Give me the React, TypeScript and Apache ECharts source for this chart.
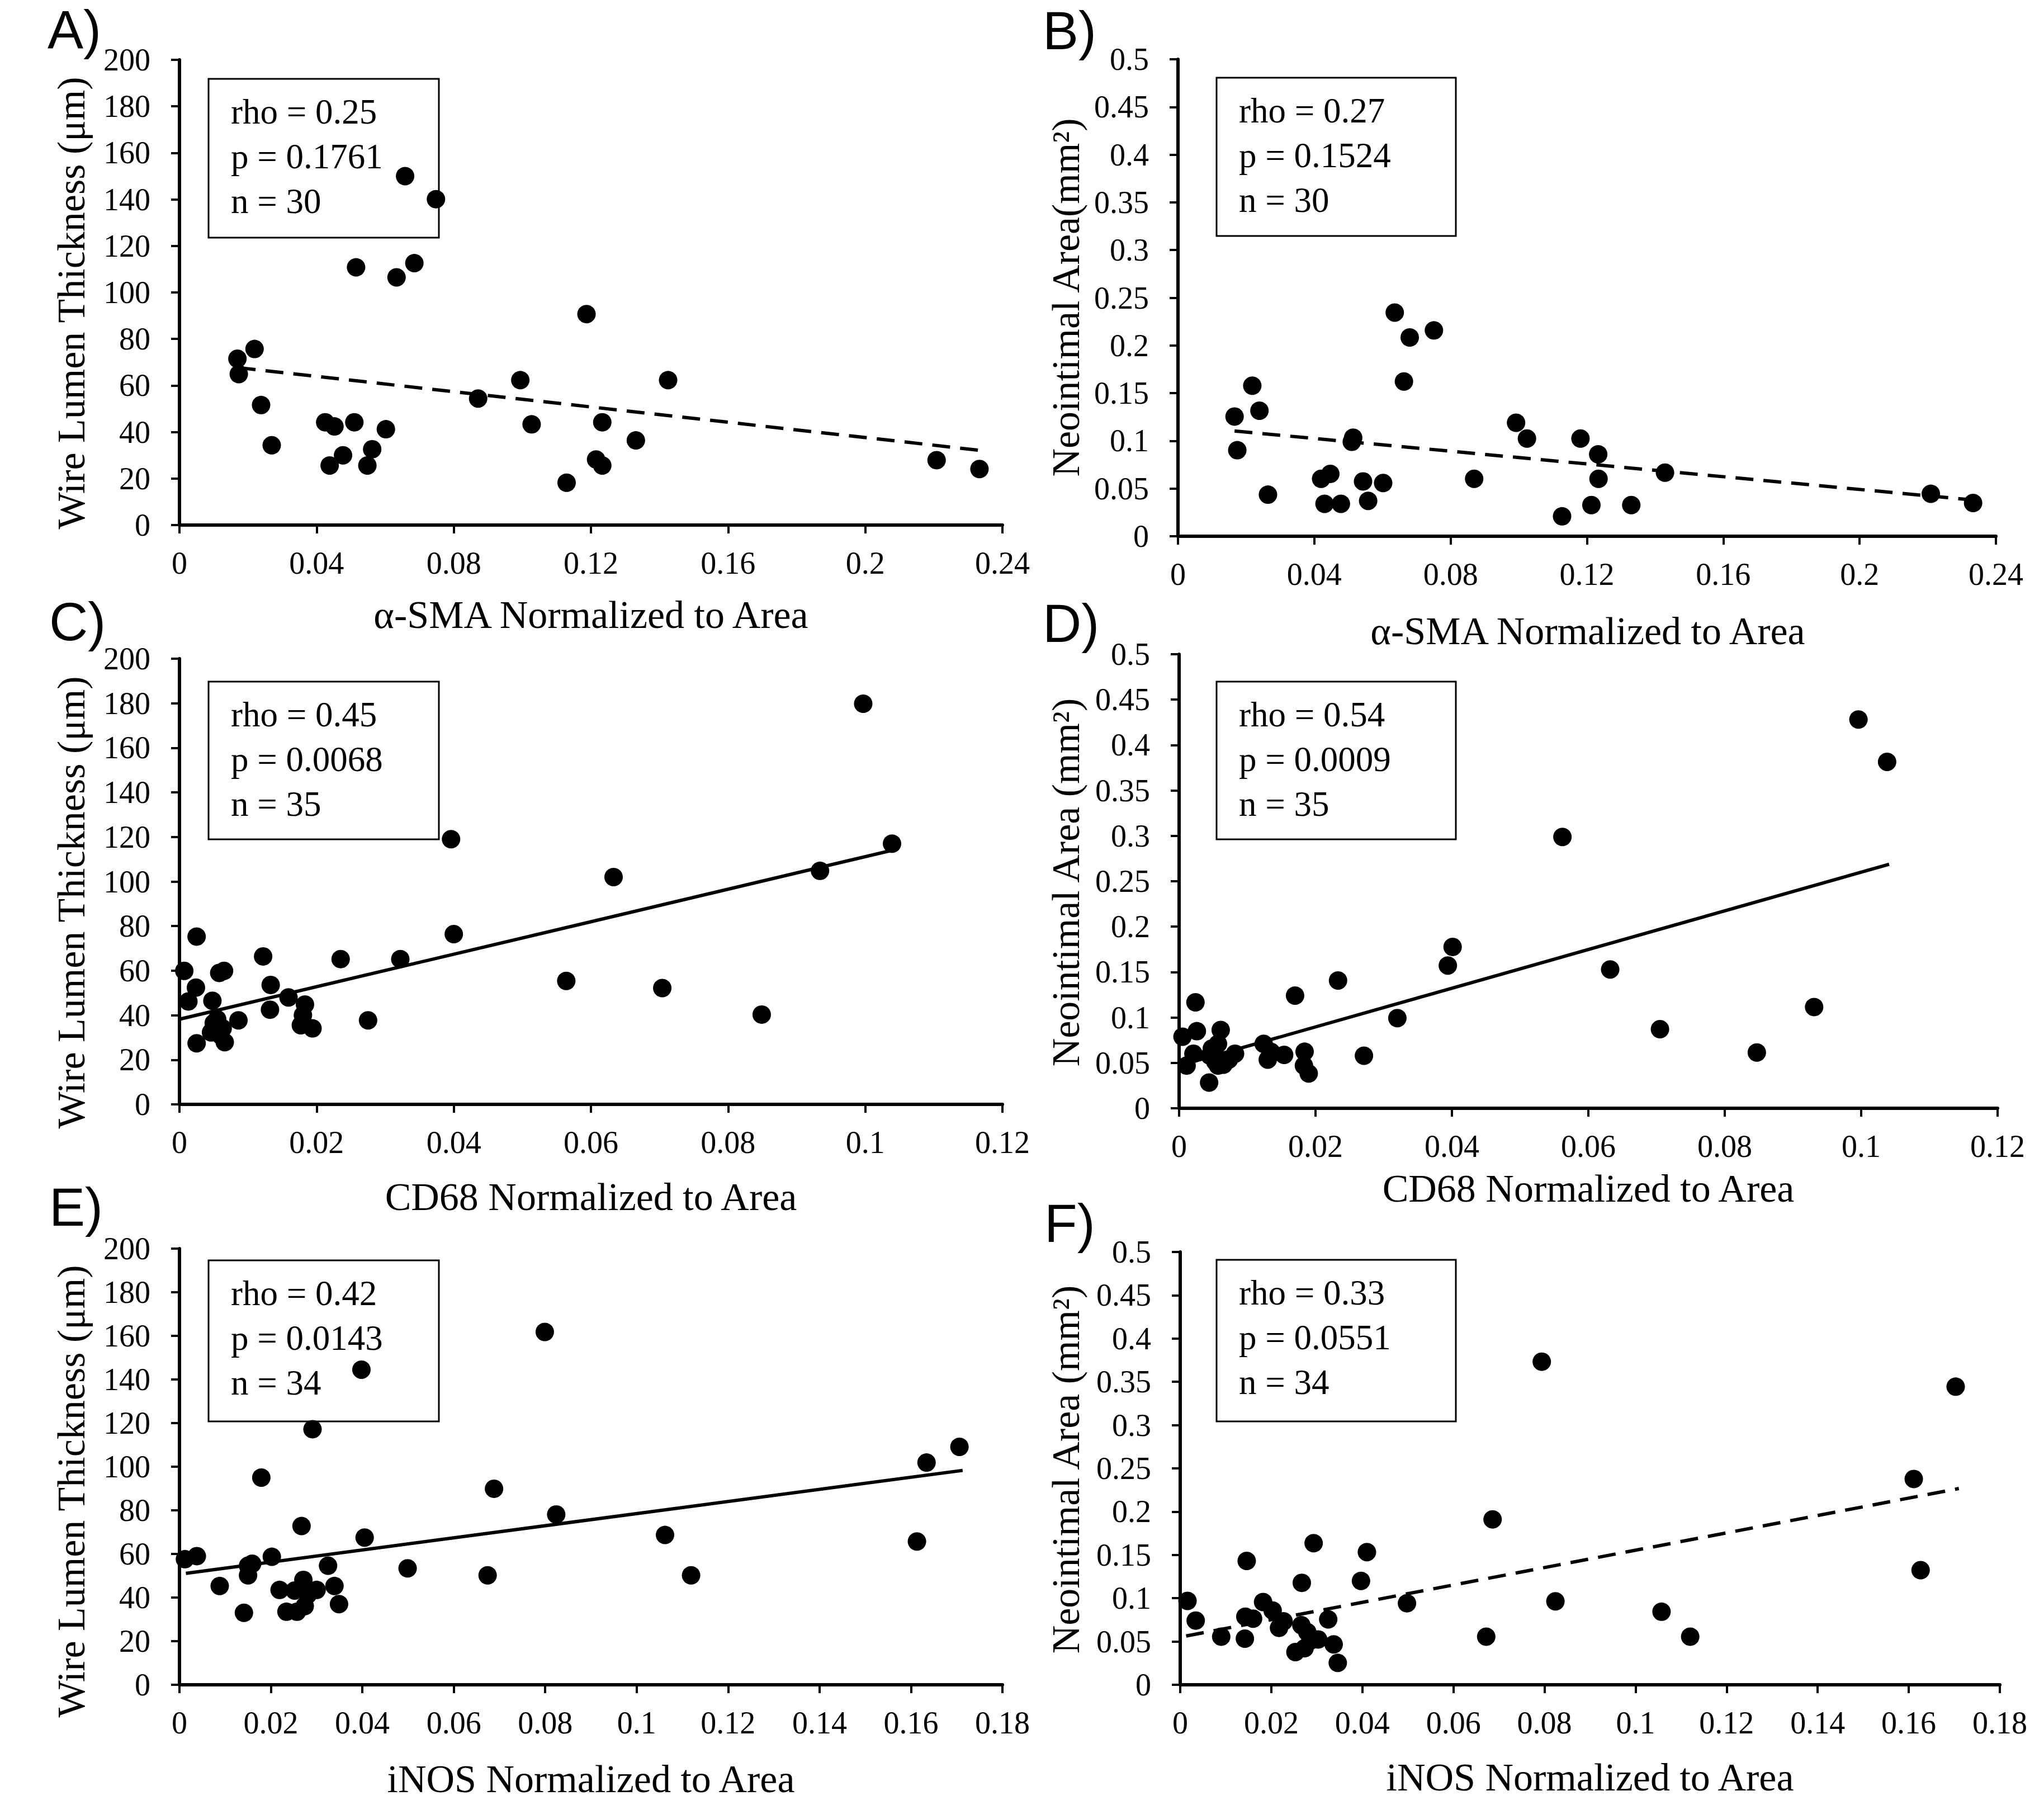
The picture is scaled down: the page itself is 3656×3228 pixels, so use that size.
import React, { useEffect, useRef } from "react";
import * as echarts from "echarts";

// ---------- DATA ----------
// A) alpha-SMA vs Wire Lumen Thickness
const smaThickness: number[][] = [
  [0.0169, 71.5], [0.0173, 64.9], [0.0219, 75.7], [0.0238, 51.6], [0.0269, 34.3],
  [0.0425, 44.2], [0.0452, 42.4], [0.0438, 25.6], [0.0477, 30.0], [0.051, 44.2],
  [0.0515, 110.8], [0.0562, 32.6], [0.0548, 25.6], [0.0602, 41.2], [0.0633, 106.5],
  [0.0658, 150.0], [0.0685, 112.6], [0.0748, 140.1], [0.0871, 54.4], [0.0994, 62.3],
  [0.1027, 43.3], [0.1129, 18.2], [0.1187, 90.7], [0.1215, 28.2], [0.1233, 25.6],
  [0.1233, 44.2], [0.1331, 36.4], [0.1425, 62.3], [0.2208, 27.9], [0.2333, 24.1],
];
const smaThicknessTrend: number[][] = [[0.017, 67.7], [0.2342, 32.0]];

// B) alpha-SMA vs Neointimal Area
const smaArea: number[][] = [
  [0.0166, 0.1255], [0.0174, 0.0902], [0.0218, 0.1578], [0.0239, 0.1316], [0.0264, 0.0436],
  [0.042, 0.0602], [0.0447, 0.0654], [0.043, 0.034], [0.0478, 0.034], [0.0514, 0.1033],
  [0.051, 0.099], [0.0543, 0.0575], [0.0558, 0.0371], [0.0602, 0.0558], [0.0636, 0.2345],
  [0.0663, 0.1622], [0.068, 0.2084], [0.0751, 0.2158], [0.0869, 0.0602], [0.0992, 0.119],
  [0.1024, 0.1024], [0.1127, 0.0209], [0.1181, 0.1024], [0.1213, 0.0327], [0.1233, 0.0859],
  [0.1234, 0.0602], [0.133, 0.0327], [0.1429, 0.0667], [0.2209, 0.0445], [0.2333, 0.0349],
];
const smaAreaTrend: number[][] = [[0.0166, 0.1103], [0.2335, 0.0379]];

// C) CD68 vs Wire Lumen Thickness
const cd68Thickness: number[][] = [
  [0.0007, 59.9], [0.0013, 46.2], [0.0024, 52.4], [0.0025, 75.3], [0.0025, 27.4],
  [0.0048, 46.5], [0.0055, 38.2], [0.0046, 32.3], [0.0058, 59.0], [0.0065, 59.9],
  [0.0063, 34.1], [0.0066, 27.9], [0.0086, 37.7], [0.0122, 66.4], [0.0133, 53.6],
  [0.0132, 42.5], [0.0159, 48.0], [0.0183, 44.8], [0.0177, 35.5], [0.0194, 34.1],
  [0.0235, 65.2], [0.0275, 37.7], [0.0322, 65.2], [0.0396, 119.0], [0.04, 76.4],
  [0.0564, 55.4], [0.0633, 102.0], [0.0704, 52.2], [0.0849, 40.3], [0.0934, 104.8],
  [0.0997, 179.8], [0.1039, 117.0], [0.005, 36.5], [0.018, 40.0], [0.006, 31.0],
];
const cd68ThicknessTrend: number[][] = [[0, 38.2], [0.1039, 114.0]];

// D) CD68 vs Neointimal Area
const cd68Area: number[][] = [
  [0.0005, 0.0788], [0.0011, 0.047], [0.0021, 0.0601], [0.0024, 0.1167], [0.0026, 0.0849],
  [0.0044, 0.0283], [0.0048, 0.0658], [0.0053, 0.0514], [0.0057, 0.071], [0.0061, 0.0862],
  [0.0057, 0.047], [0.0073, 0.0536], [0.0082, 0.0601], [0.0124, 0.071], [0.013, 0.0536],
  [0.0154, 0.0588], [0.017, 0.1241], [0.0184, 0.0623], [0.0183, 0.047], [0.019, 0.0383],
  [0.0233, 0.1407], [0.0271, 0.0579], [0.032, 0.0993], [0.0394, 0.1572], [0.0401, 0.1777],
  [0.0562, 0.2988], [0.0632, 0.1529], [0.0705, 0.0871], [0.0847, 0.0614], [0.0931, 0.1115],
  [0.0996, 0.4281], [0.1038, 0.3815], [0.0065, 0.048], [0.0135, 0.062], [0.0045, 0.058],
];
const cd68AreaTrend: number[][] = [[0, 0.047], [0.1041, 0.2687]];

// E) iNOS vs Wire Lumen Thickness
const inosThickness: number[][] = [
  [0.0012, 57.6], [0.0038, 59.0], [0.0088, 45.3], [0.0141, 33.0], [0.015, 54.6],
  [0.015, 50.2], [0.0159, 55.5], [0.0179, 95.0], [0.0202, 58.7], [0.0219, 43.5],
  [0.0234, 33.5], [0.0252, 43.2], [0.0257, 33.5], [0.0267, 72.8], [0.0271, 48.1],
  [0.0274, 36.1], [0.0281, 41.4], [0.0291, 117.2], [0.03, 43.5], [0.0325, 54.6],
  [0.0339, 45.3], [0.0349, 37.0], [0.0398, 144.5], [0.0405, 67.5], [0.0499, 53.4],
  [0.0674, 50.2], [0.0688, 89.9], [0.0799, 161.8], [0.0824, 78.1], [0.1062, 68.7],
  [0.1119, 50.2], [0.1613, 65.7], [0.1634, 101.9], [0.1706, 109.1],
];
const inosThicknessTrend: number[][] = [[0.0014, 51.1], [0.1713, 98.3]];

// F) iNOS vs Neointimal Area
const inosArea: number[][] = [
  [0.0016, 0.0969], [0.0034, 0.0742], [0.009, 0.0556], [0.0142, 0.0533], [0.0143, 0.0787],
  [0.0146, 0.1431], [0.016, 0.0764], [0.0182, 0.0956], [0.0203, 0.0858], [0.0217, 0.0658],
  [0.0227, 0.0733], [0.0253, 0.0378], [0.0266, 0.0689], [0.0267, 0.1178], [0.0273, 0.0422],
  [0.0279, 0.0609], [0.0286, 0.0511], [0.0293, 0.1636], [0.0303, 0.0524], [0.0325, 0.0756],
  [0.0337, 0.0467], [0.0346, 0.0253], [0.0397, 0.12], [0.041, 0.1533], [0.0498, 0.0942],
  [0.0672, 0.0556], [0.0686, 0.1911], [0.0794, 0.3733], [0.0824, 0.0964], [0.1057, 0.0844],
  [0.112, 0.0556], [0.1611, 0.2378], [0.1626, 0.1324], [0.1703, 0.3444],
];
const inosAreaTrend: number[][] = [[0.0013, 0.0564], [0.171, 0.2267]];

// Axis ranges / labels
const xMaxes = [0.24, 0.24, 0.12, 0.12, 0.18, 0.18];
const xSteps = [0.04, 0.04, 0.02, 0.02, 0.02, 0.02];
const yMaxes = [200, 0.5, 200, 0.5, 200, 0.5];
const ySteps = [20, 0.05, 20, 0.05, 20, 0.05];
const panelLetters = ["A)", "B)", "C)", "D)", "E)", "F)"];
const xTitles = [
  "α-SMA Normalized to Area", "α-SMA Normalized to Area",
  "CD68 Normalized to Area", "CD68 Normalized to Area",
  "iNOS Normalized to Area", "iNOS Normalized to Area",
];
const yTitles = [
  "Wire Lumen Thickness (μm)", "Neointimal Area(mm²)",
  "Wire Lumen Thickness (μm)", "Neointimal Area (mm²)",
  "Wire Lumen Thickness (μm)", "Neointimal Area (mm²)",
];
const statLines = [
  ["rho = 0.25", "p = 0.1761", "n = 30"],
  ["rho = 0.27", "p = 0.1524", "n = 30"],
  ["rho = 0.45", "p = 0.0068", "n = 35"],
  ["rho = 0.54", "p = 0.0009", "n = 35"],
  ["rho = 0.42", "p = 0.0143", "n = 34"],
  ["rho = 0.33", "p = 0.0551", "n = 34"],
];
const scatterData = [smaThickness, smaArea, cd68Thickness, cd68Area, inosThickness, inosArea];
const trendData = [smaThicknessTrend, smaAreaTrend, cd68ThicknessTrend, cd68AreaTrend, inosThicknessTrend, inosAreaTrend];
const trendDashed = [true, true, false, false, false, true];

// ---------- LAYOUT ----------
const W = 3656;
const H = 3228;
const grids = [
  { left: 321, top: 107, width: 1472, height: 832 },
  { left: 2107, top: 106, width: 1463, height: 853 },
  { left: 321, top: 1178, width: 1472, height: 797 },
  { left: 2109, top: 1170, width: 1464, height: 812 },
  { left: 321, top: 2233, width: 1472, height: 780 },
  { left: 2111, top: 2239, width: 1466, height: 774 },
];
const xTitlePos = [[1057, 1099], [2840, 1128], [1057, 2140], [2841, 2125], [1057, 3181], [2844, 3178]];
const yTitlePos = [[127, 542], [1906, 532], [127, 1614], [1906, 1578], [127, 2667], [1906, 2628]];
const letterPos = [[85, 52], [1865, 54], [88, 1111], [1865, 1114], [88, 2158], [1868, 2187]];
const boxes = [
  [373, 141, 412, 284], [2176, 139, 428, 283],
  [373, 1219, 412, 282], [2176, 1219, 428, 282],
  [373, 2254, 412, 288], [2176, 2253, 428, 289],
];

const SERIF = '"Liberation Serif", "Times New Roman", serif';
const SANS = '"Liberation Sans", Arial, sans-serif';

const fmt = (v: number) => String(parseFloat(v.toFixed(4)));

function buildOption() {
  const xAxis: any[] = [];
  const yAxis: any[] = [];
  const series: any[] = [];
  const graphic: any[] = [];

  for (let i = 0; i < 6; i++) {
    const axisCommon = {
      axisLine: { show: true, onZero: false, lineStyle: { color: "#000", width: 6 } },
      axisTick: { show: true, length: 15, lineStyle: { color: "#000", width: 4 } },
      splitLine: { show: false },
    };
    const labelCommon = {
      color: "#000",
      fontFamily: SERIF,
      fontSize: 56,
      formatter: fmt,
    };
    xAxis.push({
      type: "value",
      gridIndex: i,
      min: 0,
      max: xMaxes[i],
      interval: xSteps[i],
      ...axisCommon,
      axisLabel: { ...labelCommon, margin: 40 },
    });
    yAxis.push({
      type: "value",
      gridIndex: i,
      min: 0,
      max: yMaxes[i],
      interval: ySteps[i],
      ...axisCommon,
      axisLabel: { ...labelCommon, margin: 52 },
    });
    series.push({
      type: "scatter",
      xAxisIndex: i,
      yAxisIndex: i,
      data: scatterData[i],
      symbol: "circle",
      symbolSize: 33,
      itemStyle: { color: "#000", opacity: 1 },
      z: 5,
    });
    series.push({
      type: "line",
      xAxisIndex: i,
      yAxisIndex: i,
      data: trendData[i],
      showSymbol: false,
      symbol: "none",
      lineStyle: {
        color: "#000",
        width: 6,
        opacity: 1,
        type: trendDashed[i] ? [32, 18] : "solid",
      },
      z: 4,
    });

    // stats box (drawn under the points)
    const [bx, by, bw, bh] = boxes[i];
    graphic.push({
      type: "rect",
      shape: { x: bx, y: by, width: bw, height: bh },
      style: { fill: "#fff", stroke: "#000", lineWidth: 3 },
      z: 1,
    });
    statLines[i].forEach((t, k) => {
      graphic.push({
        type: "text",
        x: bx + 40,
        y: by + 59 + k * 80,
        z: 2,
        style: {
          text: t,
          fill: "#000",
          fontFamily: SERIF,
          fontSize: 63,
          align: "left",
          verticalAlign: "middle",
        },
      });
    });
    // panel letter
    graphic.push({
      type: "text",
      x: letterPos[i][0],
      y: letterPos[i][1],
      z: 2,
      style: {
        text: panelLetters[i],
        fill: "#000",
        fontFamily: SANS,
        fontSize: 96,
        align: "left",
        verticalAlign: "middle",
      },
    });
    // x title
    graphic.push({
      type: "text",
      x: xTitlePos[i][0],
      y: xTitlePos[i][1],
      z: 2,
      style: {
        text: xTitles[i],
        fill: "#000",
        fontFamily: SERIF,
        fontSize: 70,
        align: "center",
        verticalAlign: "middle",
      },
    });
    // y title
    graphic.push({
      type: "text",
      x: yTitlePos[i][0],
      y: yTitlePos[i][1],
      rotation: Math.PI / 2,
      z: 2,
      style: {
        text: yTitles[i],
        fill: "#000",
        fontFamily: SERIF,
        fontSize: 70,
        align: "center",
        verticalAlign: "middle",
      },
    });
  }

  return {
    animation: false,
    backgroundColor: "#fff",
    grid: grids.map((g) => ({ ...g, containLabel: false })),
    xAxis,
    yAxis,
    series,
    graphic,
  };
}

export default function App() {
  const ref = useRef<HTMLDivElement>(null);
  useEffect(() => {
    if (!ref.current) return;
    const chart = echarts.init(ref.current, null, { renderer: "svg" });
    chart.setOption(buildOption() as any);
    return () => chart.dispose();
  }, []);
  return (
    <div
      ref={ref}
      style={{ position: "absolute", left: 0, top: 0, width: W, height: H, background: "#fff" }}
    />
  );
}
